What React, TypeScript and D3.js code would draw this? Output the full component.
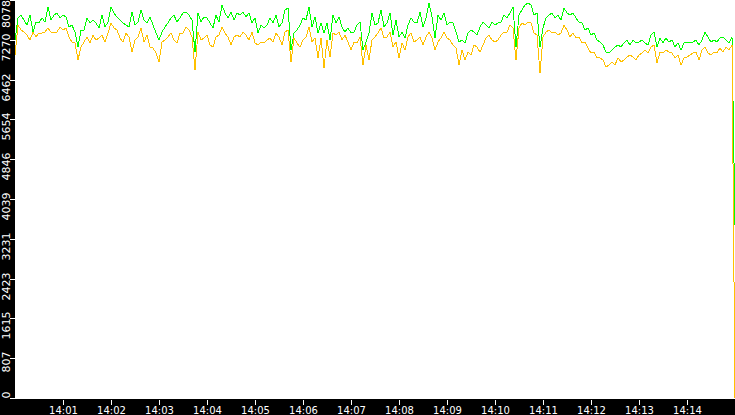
import { useEffect, useRef } from "react";
import * as d3 from "d3";

// chart window: 14:00 -> 14:15, one sample every 3.75 s
const startTime = new Date(2000, 0, 1, 14, 0, 0);
const endTime = new Date(2000, 0, 1, 14, 15, 0);
const sampleStepMs = 3750;

const yMax = 8078;
const yTickValues = [0, 807, 1615, 2423, 3231, 4039, 4846, 5654, 6462, 7270, 8078];

const greenValues = [
  7266, 7713, 7773, 7672, 7570, 7773, 7428, 7631, 7611, 7713, 7631, 7936, 7672, 7773, 7814, 7713, 7773, 7733, 7530, 7570,
  7428, 7124, 7469, 7469, 7713, 7611, 7672, 7611, 7510, 7773, 7530, 7631, 7936, 7814, 7733, 7672, 7611, 7570, 7530, 7834,
  7570, 7631, 7875, 7672, 7611, 7733, 7570, 7408, 7266, 7428, 7530, 7611, 7713, 7773, 7631, 7713, 7814, 7834, 7773, 7672,
  7022, 7814, 7631, 7733, 7713, 7611, 7510, 7773, 7631, 7977, 7814, 7713, 7834, 7672, 7814, 7773, 7834, 7733, 7814, 7611,
  7713, 7408, 7570, 7510, 7570, 7713, 7611, 7773, 7530, 7611, 7875, 7916, 7063, 7408, 7469, 7570, 7713, 7672, 7936, 7530,
  7733, 7408, 7611, 7408, 7611, 7266, 7773, 7611, 7733, 7530, 7428, 7510, 7408, 7428, 7570, 7631, 7063, 7225, 7408, 7814,
  7570, 7611, 7875, 7530, 7611, 7814, 7367, 7672, 7327, 7428, 7307, 7570, 7713, 7631, 7611, 7834, 7530, 7713, 8017, 7733,
  7307, 7773, 7672, 7814, 7570, 7631, 7611, 7428, 7225, 7266, 7205, 7408, 7469, 7428, 7367, 7530, 7631, 7570, 7510, 7631,
  7570, 7611, 7631, 7773, 7713, 7814, 7936, 7124, 7773, 7875, 7977, 8017, 7977, 7773, 7814, 7124, 7510, 7713, 7773, 7814,
  7713, 7773, 7672, 7916, 7814, 7773, 7814, 7713, 7631, 7611, 7469, 7510, 7367, 7408, 7266, 7225, 7164, 7022, 7002, 7063,
  7124, 7164, 7124, 7205, 7266, 7164, 7266, 7205, 7225, 7266, 7205, 7164, 7367, 7428, 7124, 7307, 7205, 7307, 7225, 7266,
  7124, 7205, 7063, 7205, 7225, 7205, 7225, 7266, 7164, 7266, 7428, 7327, 7225, 7266, 7225, 7307, 7327, 7266, 7205, 7327,
  3510,
];

const yellowValues = [
  6962, 7570, 7469, 7428, 7367, 7266, 7428, 7327, 7408, 7408, 7428, 7510, 7428, 7408, 7428, 7530, 7469, 7510, 7327, 7225,
  7205, 6860, 7124, 7225, 7327, 7205, 7367, 7266, 7307, 7367, 7225, 7408, 7611, 7510, 7469, 7307, 7225, 7408, 7327, 7022,
  7266, 7327, 7510, 7225, 7367, 7124, 7104, 7002, 6820, 7225, 7266, 7327, 7408, 7266, 7205, 7408, 7408, 7530, 7469, 7327,
  6657, 7428, 7266, 7307, 7367, 7164, 7124, 7327, 7367, 7530, 7408, 7327, 7164, 7327, 7367, 7327, 7428, 7367, 7266, 7428,
  7205, 7164, 7225, 7205, 7266, 7307, 7225, 7408, 7327, 7164, 7428, 7469, 6820, 7307, 7205, 7124, 7266, 7327, 7530, 7225,
  7307, 6901, 7307, 6698, 7266, 6921, 7408, 7367, 7428, 7266, 7367, 7225, 7063, 7225, 7205, 7327, 6759, 7164, 6860, 7266,
  7327, 7408, 7510, 7307, 7327, 7428, 7124, 7225, 6901, 7205, 7063, 7327, 7408, 7225, 7266, 7327, 7164, 7327, 7428, 7307,
  7063, 7225, 7307, 7428, 7307, 7266, 7164, 7104, 6759, 7063, 6860, 7022, 6962, 7164, 7124, 7022, 7164, 7307, 7367, 7266,
  7225, 7266, 7367, 7428, 7428, 7570, 7510, 6860, 7510, 7611, 7570, 7631, 7611, 7408, 7367, 6596, 7327, 7428, 7469, 7408,
  7428, 7367, 7408, 7570, 7469, 7327, 7408, 7307, 7327, 7205, 7225, 7104, 7002, 7022, 6901, 6901, 6860, 6718, 6759, 6820,
  6759, 6901, 6820, 6860, 6921, 6962, 6921, 6860, 6962, 7002, 7063, 7002, 7124, 7164, 6799, 7022, 7002, 7063, 7022, 7002,
  6901, 6962, 6759, 6901, 6921, 6962, 7002, 7022, 6860, 7063, 7124, 7002, 6962, 7022, 7002, 7104, 7022, 7124, 7063, 7164,
  0,
];

const W = 735;
const H = 415;
const plotLeft = 15;
const plotBottom = 398;

type Pt = { t: Date; v: number };

const toPoints = (vals: number[]): Pt[] =>
  vals.map((v, i) => ({
    t: i === vals.length - 1 ? endTime : new Date(startTime.getTime() + i * sampleStepMs),
    v,
  }));

const App = () => {
  const ref = useRef<SVGSVGElement>(null);

  useEffect(() => {
    const svg = d3.select(ref.current);
    svg.selectAll("*").remove();

    const x = d3.scaleTime().domain([startTime, endTime]).range([plotLeft, W]);
    const y = d3.scaleLinear().domain([0, yMax]).range([plotBottom, 0]);

    svg.append("rect").attr("width", W).attr("height", H).attr("fill", "#000");
    svg
      .append("rect")
      .attr("x", plotLeft)
      .attr("y", 0)
      .attr("width", W - plotLeft)
      .attr("height", plotBottom + 1)
      .attr("fill", "#fff");

    // y axis
    const yAxis = svg.append("g");
    yTickValues.forEach((v) => {
      const ty = Math.round(y(v)) + 0.5;
      yAxis
        .append("line")
        .attr("x1", 10)
        .attr("x2", plotLeft)
        .attr("y1", ty)
        .attr("y2", ty)
        .attr("stroke", "#fff");
      const label = String(v);
      const top = Math.min(Math.max(0, ty - 7), 400 - label.length * 6.5);
      yAxis
        .append("text")
        .attr("transform", `translate(10,${top}) rotate(-90)`)
        .attr("text-anchor", "end")
        .attr("fill", "#fff")
        .attr("font-family", "DejaVu Sans")
        .attr("font-size", 11)
        .text(label);
    });

    // x axis
    const xAxis = svg.append("g");
    x.ticks(d3.timeMinute.every(1)!)
      .filter((t) => t > startTime && t < endTime)
      .forEach((t) => {
        const tx = Math.round(x(t)) + 0.5;
        xAxis
          .append("line")
          .attr("x1", tx)
          .attr("x2", tx)
          .attr("y1", 400)
          .attr("y2", 405)
          .attr("stroke", "#fff");
        xAxis
          .append("text")
          .attr("x", tx)
          .attr("y", 414)
          .attr("text-anchor", "middle")
          .attr("fill", "#fff")
          .attr("font-family", "DejaVu Sans")
          .attr("font-size", 10)
          .text(d3.timeFormat("%H:%M")(t));
      });

    const line = d3
      .line<Pt>()
      .x((d) => x(d.t))
      .y((d) => y(d.v));

    svg
      .append("path")
      .datum(toPoints(greenValues))
      .attr("fill", "none")
      .attr("stroke", "#00ff00")
      .attr("stroke-width", 1)
      .attr("shape-rendering", "crispEdges")
      .attr("d", line);

    svg
      .append("path")
      .datum(toPoints(yellowValues))
      .attr("fill", "none")
      .attr("stroke", "#ffc000")
      .attr("stroke-width", 1)
      .attr("shape-rendering", "crispEdges")
      .attr("d", line);
  }, []);

  return (
    <div style={{ position: "absolute", left: 0, top: 0 }}>
      <svg ref={ref} width={W} height={H} style={{ display: "block" }} />
    </div>
  );
};

export default App;
